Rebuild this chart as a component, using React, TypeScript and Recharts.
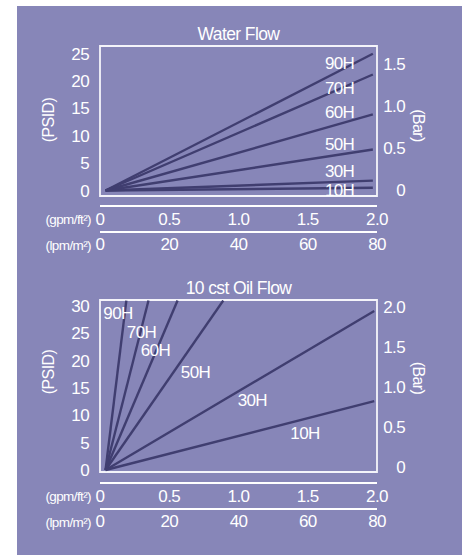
import { LineChart, Line, XAxis, YAxis, ReferenceArea, ReferenceDot } from "recharts";

const FONT = "'Liberation Sans', Arial, Helvetica, sans-serif";
const PANEL = "#8786b8";
const INK = "#403e70";

const GRADES = ["90H", "70H", "60H", "50H", "30H", "10H"];

// Water Flow: every grade starts near the origin and runs to the right edge
const waterStartGpm = 0.04;
const waterEndGpm = 1.97;
const waterEndPsid = [25.0, 21.2, 13.9, 7.5, 1.8, 0.5];
const waterLabelGpm = [1.73, 1.73, 1.73, 1.73, 1.73, 1.73];
const waterLabelPsid = [23.4, 18.7, 14.3, 8.5, 3.6, 0.1];

// 10 cst Oil Flow
const oilStartGpm = 0.04;
const oilEndGpm = [0.19, 0.35, 0.56, 0.89, 1.98, 1.98];
const oilEndPsid = [31, 31, 31, 31, 29.1, 12.6];
const oilLabelGpm = [0.13, 0.3, 0.4, 0.69, 1.1, 1.48];
const oilLabelPsid = [28.7, 25.2, 22.0, 17.9, 12.8, 6.8];

const gpmTicks = [0, 0.5, 1, 1.5, 2];
const lpmTicks = [0, 20, 40, 60, 80];
const waterPsidTicks = [0, 5, 10, 15, 20, 25];
const waterBarTicks = [0, 0.5, 1, 1.5];
const oilPsidTicks = [0, 5, 10, 15, 20, 25, 30];
const oilBarTicks = [0, 0.5, 1, 1.5, 2];

const fmt1 = (v: number) => (v === 0 ? "0" : v.toFixed(1));

// the lpm scale has no series of its own; give it its tick rows
const lpmRows = lpmTicks.map((lpm) => ({ lpm }));

type Series = { name: string; data: { gpm: number; psid: number }[] };
type Tag = { name: string; gpm: number; psid: number };

interface FlowChartProps {
  title: string;
  top: number;
  height: number;
  marginTop: number;
  marginBottom: number;
  psidDomain: [number, number];
  boxBottom: number;
  barDomain: [number, number];
  psidTicks: number[];
  barTicks: number[];
  series: Series[];
  tags: Tag[];
  psidDy: number;
  barDy: number;
}

const tickStyle = { fill: "#fff", fontSize: 17 };
const axisLineStyle = { stroke: "#fff", strokeWidth: 1.8 };

function FlowChart(p: FlowChartProps) {
  return (
    <div style={{ position: "absolute", left: 0, top: p.top, width: 462, height: p.height }}>
      <div
        style={{
          position: "absolute",
          left: 100,
          width: 277,
          top: p.marginTop - 22,
          textAlign: "center",
          color: "#fff",
          fontSize: 17.5,
          lineHeight: "20px",
        }}
      >
        {p.title}
      </div>
      <LineChart
        width={462}
        height={p.height}
        data={lpmRows}
        margin={{ top: p.marginTop, left: 2, right: 45, bottom: p.marginBottom }}
        style={{ position: "absolute", left: 0, top: 0 }}
      >
        <XAxis
          xAxisId="b-gpm"
          type="number"
          dataKey="gpm"
          domain={[0, 2]}
          allowDataOverflow
          ticks={gpmTicks}
          tickFormatter={fmt1}
          height={26}
          axisLine={axisLineStyle}
          tickLine={false}
          tickMargin={1}
          tick={tickStyle}
          label={{ value: "(gpm/ft²)", position: "left", offset: 9, fill: "#fff", fontSize: 13.5 }}
        />
        <XAxis
          xAxisId="c-lpm"
          type="number"
          dataKey="lpm"
          domain={[0, 80]}
          allowDataOverflow
          ticks={lpmTicks}
          height={26}
          axisLine={axisLineStyle}
          tickLine={false}
          tickMargin={0}
          tick={tickStyle}
          label={{ value: "(lpm/m²)", position: "left", offset: 9, fill: "#fff", fontSize: 13.5 }}
        />
        <YAxis
          yAxisId="psid"
          type="number"
          dataKey="psid"
          domain={p.psidDomain}
          allowDataOverflow
          ticks={p.psidTicks}
          width={98}
          axisLine={false}
          tickLine={false}
          tickMargin={5}
          tick={tickStyle}
          label={{ value: "(PSID)", position: "center", angle: -90, dx: -3, dy: p.psidDy, fill: "#fff", fontSize: 16 }}
        />
        <YAxis
          yAxisId="bar"
          orientation="right"
          type="number"
          domain={p.barDomain}
          allowDataOverflow
          ticks={p.barTicks}
          tickFormatter={fmt1}
          width={40}
          axisLine={false}
          tickLine={false}
          tick={{ ...tickStyle, textAnchor: "end", dx: 20 }}
          label={{ value: "(Bar)", position: "center", angle: 90, dx: 22, dy: p.barDy, fill: "#fff", fontSize: 16 }}
        />
        {/* frame of the plot; it sits a little above the gpm scale line */}
        <ReferenceArea
          xAxisId="b-gpm"
          yAxisId="psid"
          x1={0}
          x2={2}
          y1={p.boxBottom}
          y2={p.psidDomain[1]}
          fill="none"
          stroke="#f4f4fa"
          strokeWidth={1.8}
        />
        {p.tags.map((t) => (
          <ReferenceDot
            key={`tag-${t.name}`}
            xAxisId="b-gpm"
            yAxisId="psid"
            x={t.gpm}
            y={t.psid}
            r={0}
            fill="none"
            stroke="none"
            label={{ value: t.name, position: "center", fill: "#fff", fontSize: 17 }}
          />
        ))}
        {p.series.map((s) => (
          <Line
            key={s.name}
            xAxisId="b-gpm"
            yAxisId="psid"
            data={s.data}
            dataKey="psid"
            stroke={INK}
            strokeWidth={2.4}
            dot={false}
            activeDot={false}
            isAnimationActive={false}
          />
        ))}
      </LineChart>
    </div>
  );
}

export default function App() {
  const waterSeries: Series[] = GRADES.map((name, i) => ({
    name,
    data: [
      { gpm: waterStartGpm, psid: 0 },
      { gpm: waterEndGpm, psid: waterEndPsid[i] },
    ],
  }));
  const oilSeries: Series[] = GRADES.map((name, i) => ({
    name,
    data: [
      { gpm: oilStartGpm, psid: 0 },
      { gpm: oilEndGpm[i], psid: oilEndPsid[i] },
    ],
  }));
  const waterTags: Tag[] = GRADES.map((name, i) => ({ name, gpm: waterLabelGpm[i], psid: waterLabelPsid[i] }));
  const oilTags: Tag[] = GRADES.map((name, i) => ({ name, gpm: oilLabelGpm[i], psid: oilLabelPsid[i] }));

  return (
    <div
      style={{
        position: "absolute",
        left: 0,
        top: 0,
        width: 462,
        height: 555,
        overflow: "hidden",
        background: "#fff",
        fontFamily: FONT,
        letterSpacing: "-0.6px",
      }}
    >
      <div style={{ position: "absolute", left: 17, top: 6, right: 0, bottom: 0, background: PANEL }} />
      <FlowChart
        title="Water Flow"
        top={0}
        height={270}
        marginTop={46}
        marginBottom={12}
        psidDomain={[-2.83, 26.41]}
        boxBottom={-1.0}
        barDomain={[-0.19, 1.714]}
        psidTicks={waterPsidTicks}
        barTicks={waterBarTicks}
        series={waterSeries}
        tags={waterTags}
        psidDy={-6}
        barDy={-0.5}
      />
      <FlowChart
        title="10 cst Oil Flow"
        top={270}
        height={285}
        marginTop={30}
        marginBottom={20}
        psidDomain={[-2.38, 31.1]}
        boxBottom={-0.37}
        barDomain={[-0.2, 2.0875]}
        psidTicks={oilPsidTicks}
        barTicks={oilBarTicks}
        series={oilSeries}
        tags={oilTags}
        psidDy={-19.5}
        barDy={-13.5}
      />
    </div>
  );
}
